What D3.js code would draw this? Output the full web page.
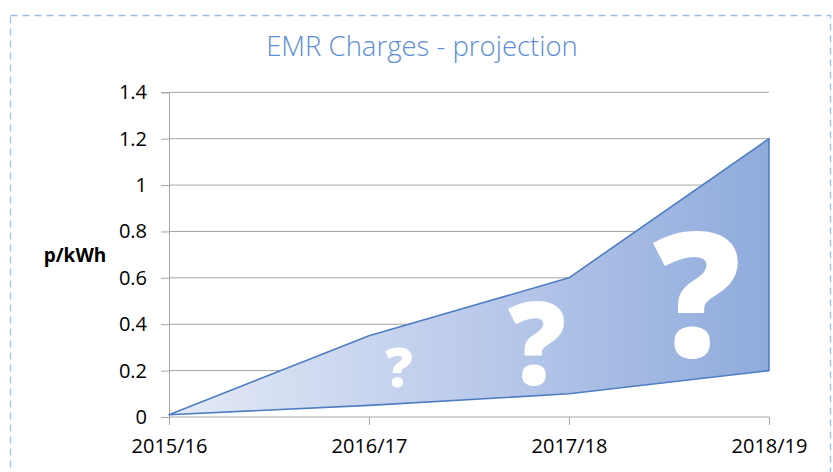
<!DOCTYPE html>
<html><head><meta charset="utf-8">
<script src="https://cdn.jsdelivr.net/npm/d3@7"></script>
<style>html,body{margin:0;padding:0;background:#fff;}svg{display:block;}</style>
</head><body>
<svg id="c" width="833" height="472"></svg>
<script>
const categories = ["2015/16", "2016/17", "2017/18", "2018/19"];
const upperValues = [0.01, 0.35, 0.6, 1.2];
const lowerValues = [0.01, 0.05, 0.1, 0.2];
const yTicks = [0, 0.2, 0.4, 0.6, 0.8, 1, 1.2, 1.4];
const yTickLabels = ["0", "0.2", "0.4", "0.6", "0.8", "1", "1.2", "1.4"];
const marks = ["?", "?", "?"];
const markIndex = [1.15, 1.84, 2.64];
const markValue = [0.13, 0.14, 0.26];
const markSize = [55, 115, 174];
const title = "EMR Charges - projection";
const yTitle = "p/kWh";

const svg = d3.select("#c");
const L = 169, R = 769, T = 92.3, B = 417;
const x = d3.scalePoint().domain(categories).range([L, R]);
const xi = d3.scaleLinear().domain([0, categories.length - 1]).range([L, R]);
const y = d3.scaleLinear().domain([0, 1.4]).range([B, T]);
const font = "'Open Sans', 'DejaVu Sans', sans-serif";

// border
svg.append("rect").attr("x", 10.5).attr("y", 15.5).attr("width", 820).attr("height", 480)
  .attr("fill", "none").attr("stroke", "#9dc0e8").attr("stroke-width", 1.3).attr("stroke-dasharray", "7,5");

svg.append("text").attr("x", 422).attr("y", 56).attr("text-anchor", "middle")
  .attr("font-family", font).attr("font-weight", 300).attr("font-size", 27.5)
  .attr("fill", "#5b8ed6").text(title);

// gridlines
const yAxis = d3.axisLeft(y).tickValues(yTicks).tickSize(8).tickPadding(14)
  .tickFormat((d, i) => yTickLabels[i]);
const gy = svg.append("g").attr("transform", `translate(${L},0)`).call(yAxis);
gy.select(".domain").attr("stroke", "#a6a6a6");
gy.selectAll(".tick line").attr("stroke", "#a6a6a6");
gy.selectAll(".tick text").attr("font-family", font).attr("font-size", 20).attr("fill", "#000");
svg.append("g").selectAll("line").data(yTicks.filter(d => d > 0)).join("line")
  .attr("x1", L).attr("x2", R).attr("y1", d => y(d)).attr("y2", d => y(d))
  .attr("stroke", "#a6a6a6").attr("stroke-width", 1);

const xAxis = d3.axisBottom(x).tickSize(8).tickPadding(14).tickSizeOuter(0);
const gx = svg.append("g").attr("transform", `translate(0,${B})`).call(xAxis);
gx.select(".domain").attr("stroke", "#a6a6a6").attr("d", `M${L},0H${R}`);
gx.selectAll(".tick line").attr("stroke", "#a6a6a6");
gx.selectAll(".tick text").attr("font-family", font).attr("font-size", 20).attr("fill", "#000");

svg.append("text").attr("x", 75).attr("y", 262).attr("text-anchor", "middle")
  .attr("font-family", font).attr("font-weight", 700).attr("font-size", 19)
  .attr("fill", "#000").text(yTitle);

// gradient
const defs = svg.append("defs");
const grad = defs.append("linearGradient").attr("id", "g1").attr("gradientUnits", "userSpaceOnUse")
  .attr("x1", L).attr("x2", R).attr("y1", 0).attr("y2", 0);
grad.append("stop").attr("offset", "0%").attr("stop-color", "#e4eaf6");
grad.append("stop").attr("offset", "50%").attr("stop-color", "#bccbeb");
grad.append("stop").attr("offset", "100%").attr("stop-color", "#8fabdc");

const data = categories.map((c, i) => ({c, lo: lowerValues[i], hi: upperValues[i]}));
const area = d3.area().x(d => x(d.c)).y0(d => y(d.lo)).y1(d => y(d.hi));
svg.append("path").datum(data).attr("d", area).attr("fill", "url(#g1)");
// outline: closed polygon
const outline = data.map(d => [x(d.c), y(d.hi)]).concat(data.slice().reverse().map(d => [x(d.c), y(d.lo)]));
svg.append("path").attr("d", d3.line()(outline) + "Z")
  .attr("fill", "none").attr("stroke", "#4e7dc2").attr("stroke-width", 1.6).attr("stroke-linejoin", "round");

svg.append("g").selectAll("text").data(marks).join("text")
  .attr("x", (d, i) => xi(markIndex[i])).attr("y", (d, i) => y(markValue[i]))
  .attr("text-anchor", "middle").attr("font-family", font).attr("font-weight", 800)
  .attr("font-size", (d, i) => markSize[i]).attr("fill", "#fff").text(d => d);
</script>
</body></html>
